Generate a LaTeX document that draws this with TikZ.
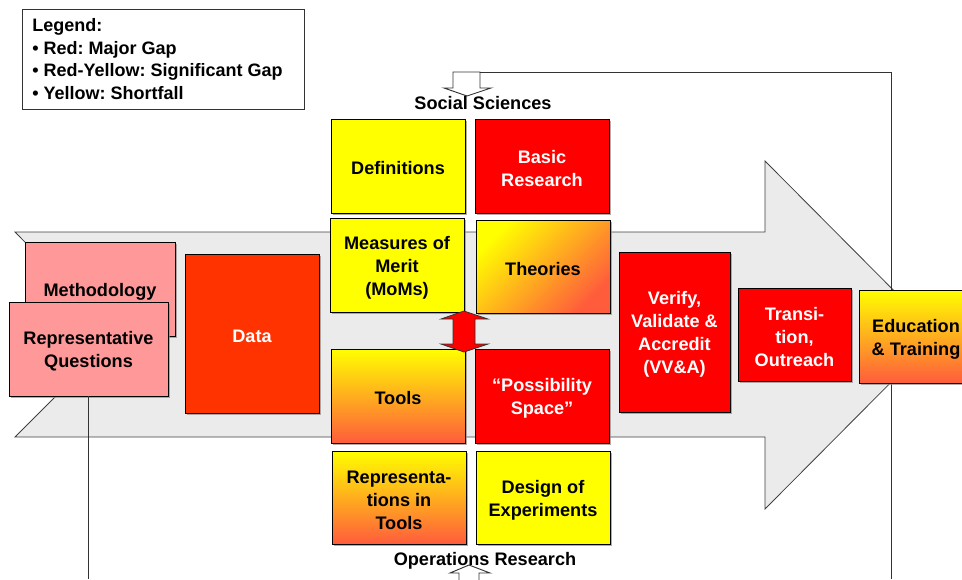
\documentclass[tikz,border=0pt]{standalone}
\usepackage{fontspec}
\setmainfont{Liberation Sans}
\usetikzlibrary{fit,shadows}
\definecolor{arrowgray}{HTML}{EBEBEB}
\definecolor{gapred}{HTML}{FF0000}
\definecolor{shortyellow}{HTML}{FFFF00}
\definecolor{gradred}{HTML}{FF5C3C}
\definecolor{pinkgap}{HTML}{FF9999}
\definecolor{dataorange}{HTML}{FF3300}
\newcommand{\lblfont}{\fontsize{13.6}{17.2}\selectfont\bfseries}
% taller first line so the text block sits a little lower in its box
\newcommand{\topstrut}{\rule{0pt}{13.6pt}}
\frenchspacing
\begin{document}
\begin{tikzpicture}[x=0.75pt,y=-0.75pt,
  boxsize/.style 2 args={minimum width=#1*0.75pt, minimum height=#2*0.75pt},
  gapbox/.style={draw=black, line width=0.7pt, inner sep=0pt, align=center,
    font=\lblfont,
    drop shadow={shadow xshift=1.4pt, shadow yshift=-1.4pt, fill=black!45, opacity=0.7}},
  major/.style={gapbox, fill=gapred, text=white},
  shortfall/.style={gapbox, fill=shortyellow},
  significant/.style={gapbox, top color=shortyellow, bottom color=gradred},
  pinkbox/.style={gapbox, fill=pinkgap},
  plainline/.style={draw=black!80, line width=0.7pt},
  hollowarrow/.style={draw=black!80, line width=0.7pt, fill=white},
  caption/.style={font=\lblfont, inner sep=0pt}
]
\useasboundingbox (0,0) rectangle (962,579);
\clip (0,0) rectangle (962,579);

% big notched process arrow
\path[fill=arrowgray, draw=black!75, line width=0.6pt]
  (15,232) -- (765,232) -- (765,161) -- (938,335) -- (765,509)
  -- (765,437) -- (15,437) -- (117,335) -- cycle;

% feedback loop along the right edge to the social sciences
\coordinate (loopbottom) at (891,579);
\coordinate (loopcorner) at (891,72);
\path[hollowarrow] (453,72) -- (480,72) -- (480,88) -- (491,88) -- (467,96)
  -- (444,88) -- (453,88) -- cycle;
\draw[plainline] (loopbottom) -- (loopcorner) -- (480,72);

% loop entering operations research from below
\path[hollowarrow] (459,590) -- (459,573) -- (450,573) -- (469,565)
  -- (490,573) -- (479,573) -- (479,590);

% legend
\node[draw=black!80, line width=0.7pt, inner sep=0pt, fit={(22,9) (304,109)}] (legend) {};
\node[anchor=north west, align=left, inner sep=0pt,
  font=\fontsize{13.5}{16.9}\selectfont\bfseries] (legendtext) at (32,18.5)
  {Legend:\\• Red: Major Gap\\• Red-Yellow: Significant Gap\\• Yellow: Shortfall};

% column headings
\node[caption] (social) at (483,103) {Social Sciences};
\node[caption] (opres) at (485,561) {Operations Research};

% left-hand inputs
\node[pinkbox, boxsize={150}{94}] (method) at (100,289) {\topstrut Methodology};
\node[pinkbox, boxsize={159}{94}] (repq) at (88.5,349) {\topstrut Representative\\Questions};
\coordinate (repqdown) at (repq.south |- 0,579);
\draw[plainline] (repq.south) -- (repqdown);
\node[gapbox, fill=dataorange, text=white, boxsize={134}{159}] (data) at (252,333.5) {\topstrut Data};

% central grid
\node[shortfall, boxsize={134}{94}] (defs) at (398,166) {\topstrut Definitions};
\node[major, boxsize={134}{94}] (basic) at (542,166) {\topstrut Basic\\Research};
\node[shortfall, boxsize={134}{94}] (moms) at (397,265) {\topstrut Measures of\\Merit\\(MoMs)};
\node[significant, shading angle=45, boxsize={134}{93}] (theories) at (543,266.5) {\topstrut Theories};
\node[significant, boxsize={134}{94}] (tools) at (398,396) {\topstrut Tools};
\node[major, boxsize={134}{94}] (possib) at (542,396) {\topstrut “Possibility\\Space”};
\node[significant, boxsize={134}{93}] (reps) at (399,497.5) {\topstrut Representa-\\tions in\\Tools};
\node[shortfall, boxsize={134}{93}] (doe) at (543,497.5) {\topstrut Design of\\Experiments};

% two-way link between the upper and lower halves
\path[draw=black!80, line width=0.6pt, fill=gapred]
  (464,311) -- (488,319) -- (475,319) -- (475,344) -- (488,344) -- (464,352)
  -- (441,344) -- (453,344) -- (453,319) -- (441,319) -- cycle;

% right-hand outputs
\node[major, boxsize={111}{160}] (vva) at (674.5,332) {\topstrut Verify,\\Validate \&\\Accredit\\(VV\&A)};
\node[major, boxsize={113}{93}] (trans) at (794.5,334.5) {\topstrut Transi-\\tion,\\Outreach};
\node[significant, boxsize={114}{93}] (edu) at (916,336.5) {\topstrut Education\\\& Training};
\end{tikzpicture}
\end{document}
